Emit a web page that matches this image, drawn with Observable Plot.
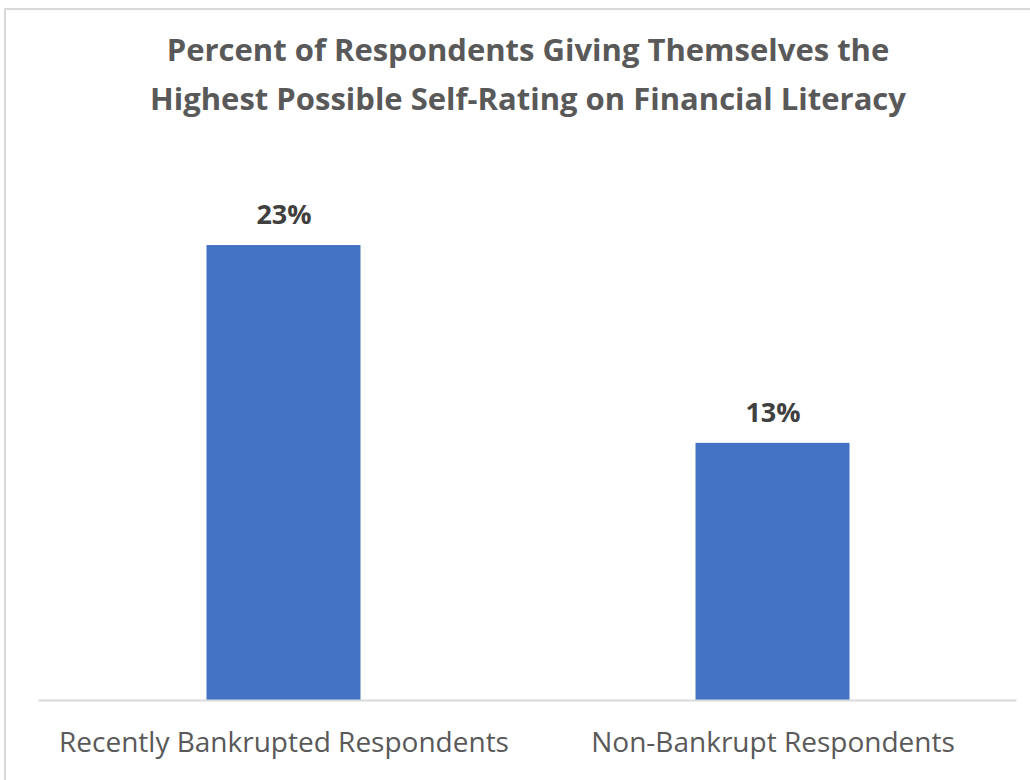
<!DOCTYPE html>
<html>
<head>
<meta charset="utf-8">
<script src="https://cdn.jsdelivr.net/npm/d3@7"></script>
<script src="https://cdn.jsdelivr.net/npm/@observablehq/plot@0.6"></script>
<style>
  body { margin: 0; background: #fff; }
  #wrap { position: relative; width: 1030px; height: 780px; overflow: hidden; font-family: "Open Sans", Lato, sans-serif; }
  #frame { position: absolute; left: 4px; top: 8px; width: 1100px; height: 900px; border: 2px solid #d9d9d9; box-sizing: border-box; }
  #title { position: absolute; left: 0; top: 0; width: 1056px; height: 130px; text-align: center; color: #595959; font-weight: bold; font-size: 31px; line-height: 49px; padding-top: 25px; box-sizing: border-box; }
  #chart { position: absolute; left: 0; top: 130px; }
</style>
</head>
<body>
<div id="wrap">
  <div id="frame"></div>
  <div id="title">Percent of Respondents Giving Themselves the<br>Highest Possible Self-Rating on Financial Literacy</div>
  <div id="chart"></div>
</div>
<script>
const categories = ["Recently Bankrupted Respondents", "Non-Bankrupt Respondents"];
const values = [23, 13];
const labels = ["23%", "13%"];

const data = categories.map((c, i) => ({category: c, value: values[i], label: labels[i]}));

const chart = Plot.plot({
  width: 1030,
  height: 650,
  marginLeft: 38.5,
  marginRight: 13.5,
  marginTop: 75.5,
  marginBottom: 80,
  style: { fontFamily: "'Open Sans', Lato, sans-serif", background: "transparent" },
  x: { domain: categories, padding: 0, label: null },
  y: { domain: [0, 25], axis: null },
  marks: [
    Plot.barY(data, { x: "category", y: "value", fill: "#4472C4", insetLeft: 167.5, insetRight: 167.5 }),
    Plot.ruleY([0], { stroke: "#d9d9d9", strokeWidth: 2 }),
    Plot.text(data, { x: "category", y: "value", text: "label", dy: -30, lineAnchor: "middle", fontSize: 27, fontWeight: "bold", fill: "#404040" }),
    Plot.axisX({ tickSize: 0, tickPadding: 32, fontSize: 28, color: "#595959", label: null })
  ]
});
document.getElementById("chart").appendChild(chart);
</script>
</body>
</html>
